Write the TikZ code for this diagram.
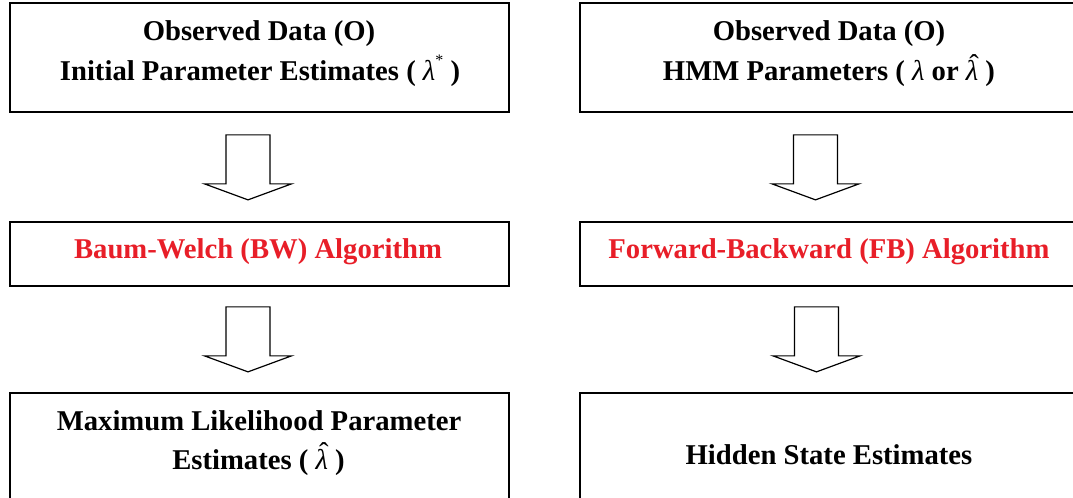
\documentclass[tikz,border=0pt]{standalone}
\usepackage{fontspec}
\setmainfont{Liberation Serif}
\usetikzlibrary{calc}
\definecolor{algred}{RGB}{232,30,40}
\newcommand\lamit{{\fontseries{m}\itshape λ}}
\newcommand\lamstar{\lamit\raisebox{0.55em}{\fontseries{m}\fontsize{12}{12}\selectfont *}}
\newcommand\lamhat{\mbox{\ooalign{\lamit\cr\hidewidth\raisebox{0.24em}{\kern0.14em{\fontseries{m}\selectfont ˆ}}\hidewidth\cr}}}
\begin{document}
\begin{tikzpicture}[x=0.75pt,y=-0.75pt,
  boxL/.style={draw,line width=1.3pt,inner sep=0pt,minimum width=374.25pt},
  boxR/.style={draw,line width=1.3pt,inner sep=0pt,minimum width=373.5pt},
  txt/.style={font=\fontsize{21.5}{26}\selectfont\bfseries,anchor=base,inner sep=0pt},
  redtxt/.style={txt,text=algred},
  pics/blockarrow/.style={code={
    \draw[line width=0.9pt,fill=white,line join=miter]
      (-22,0) -- (22,0) -- (22,49) -- (43.5,49) -- (0,65) -- (-43.5,49) -- (-22,49) -- cycle;}}]
\useasboundingbox (0,0) rectangle (1073,498);
\clip (0,0) rectangle (1073,498);
\fill[white] (0,0) rectangle (1073,498);
% boxes
\node[boxL,minimum height=81.75pt] (tl) at (259.5,57.5) {};
\node[boxL,minimum height=48pt]    (ml) at (259.5,254) {};
\node[boxL,minimum height=95.25pt] (bl) at (259.5,456.5) {};
\node[boxR,minimum height=81.75pt] (tr) at (829,57.5) {};
\node[boxR,minimum height=48pt]    (mr) at (829,254) {};
\node[boxR,minimum height=95.25pt] (br) at (829,456.5) {};
% texts
\node[txt] (tl1) at (259,41) {Observed Data (O)};
\node[txt] (tl2) at (260,81) {Initial Parameter Estimates ( \lamstar\ )};
\node[redtxt] (ml1) at (258,259) {Baum-Welch (BW) Algorithm};
\node[txt] (bl1) at (259,430) {Maximum Likelihood Parameter};
\node[txt] (bl2) at (258.5,469) {Estimates ( \lamhat\ )};
\node[txt] (tr1) at (829,41) {Observed Data (O)};
\node[txt] (tr2) at (829,81) {HMM Parameters ( \lamit\ or \lamhat\ )};
\node[redtxt] (mr1) at (829,259) {Forward-Backward (FB) Algorithm};
\node[txt] (br1) at (829,464) {Hidden State Estimates};
% block arrows
\pic at ($(tl.south)+(-11.5,22)$) {blockarrow};
\pic at ($(ml.south)+(-11.5,20)$) {blockarrow};
\pic at ($(tr.south)+(-13.5,22)$) {blockarrow};
\pic at ($(mr.south)+(-12.5,20)$) {blockarrow};
\end{tikzpicture}
\end{document}
